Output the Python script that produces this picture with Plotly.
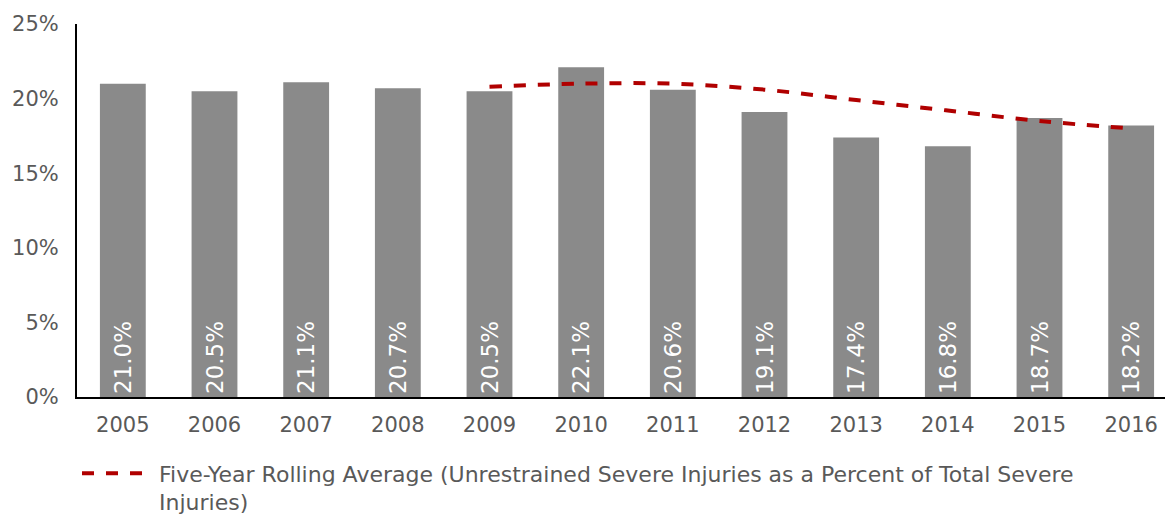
import plotly.graph_objects as go

years = ["2005", "2006", "2007", "2008", "2009", "2010", "2011", "2012", "2013", "2014", "2015", "2016"]
pct_values = [21.0, 20.5, 21.1, 20.7, 20.5, 22.1, 20.6, 19.1, 17.4, 16.8, 18.7, 18.2]
avg_years = ["2009", "2010", "2011", "2012", "2013", "2014", "2015", "2016"]
avg_values = [20.8, 21.0, 21.0, 20.6, 19.9, 19.2, 18.5, 18.0]
y_ticks = [0, 5, 10, 15, 20, 25]
y_tick_labels = ["0%", "5%", "10%", "15%", "20%", "25%"]

FONT = "DejaVu Sans"
GRAY = "#595959"

fig = go.Figure()
fig.add_trace(go.Bar(
    x=years, y=pct_values,
    marker=dict(color="#8a8a8a", line=dict(width=0)),
    text=[f"{v:.1f}%" for v in pct_values],
    textposition="inside", insidetextanchor="start", textangle=-90,
    textfont=dict(color="white", size=23, family=FONT),
    showlegend=False, hoverinfo="x+y",
))
fig.add_trace(go.Scatter(
    x=avg_years, y=avg_values, mode="lines",
    line=dict(color="#b00000", width=4, dash="dash", shape="spline"),
    name="Five-Year Rolling Average (Unrestrained Severe Injuries as a Percent of Total Severe<br>Injuries)",
))

fig.update_layout(
    width=1173, height=521,
    margin=dict(l=67, r=4, t=14, b=132),
    paper_bgcolor="white", plot_bgcolor="white",
    bargap=0.5,
    font=dict(family=FONT, color=GRAY),
    xaxis=dict(
        showline=True, linecolor="black", linewidth=2,
        ticks="", tickfont=dict(size=21, color=GRAY, family=FONT),
        showgrid=False, ticklabelstandoff=8,
    ),
    yaxis=dict(
        range=[0, 25], tickvals=y_ticks, ticktext=y_tick_labels,
        showline=True, linecolor="black", linewidth=2,
        showgrid=False, zeroline=False, ticks="",
        tickfont=dict(size=21, color=GRAY, family=FONT),
        ticklabelstandoff=12,
    ),
    legend=dict(
        orientation="h", x=0.0, xanchor="left",
        yref="container", y=0.147, yanchor="top",
        font=dict(size=22, color=GRAY, family=FONT), valign="top",
        itemwidth=72,
    ),
    showlegend=True,
)

fig.write_html("out.html")
